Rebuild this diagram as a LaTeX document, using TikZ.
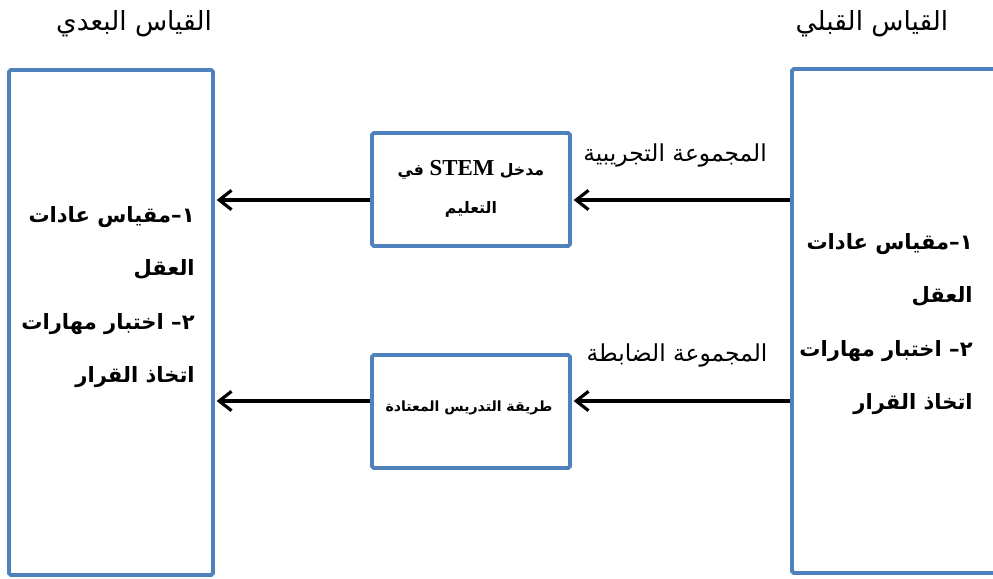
\documentclass[tikz,border=0pt]{standalone}
\usepackage{fontspec}
\newfontfamily\arabicfont[Script=Arabic]{DejaVu Sans}
\newfontfamily\latinfont{Liberation Serif}
\TeXXeTstate=1
\usetikzlibrary{positioning,arrows.meta}
\definecolor{boxblue}{RGB}{79,129,189}
\tikzset{
  flow/.style={-{Straight Barb[length=7pt,width=11pt]}, line width=1.8pt,
    draw=black, shorten >=1pt},
  frame/.style={draw=boxblue, fill=white, line width=2.2pt, rounded corners=1pt,
    inner sep=0pt},
  heading/.style={font=\arabicfont\fontsize{15}{17}\selectfont},
  grouplabel/.style={font=\arabicfont\fontsize{13.3}{16}\selectfont},
  itemlist/.style={align=right, anchor=east, inner sep=0pt,
    font=\arabicfont\bfseries\fontsize{12}{30.4}\selectfont},
  method/.style={align=center, inner sep=0pt,
    font=\arabicfont\bfseries\fontsize{9}{22}\selectfont}
}

\begin{document}
\begin{tikzpicture}[x=0.02cm, y=-0.02cm]
  \clip (0,0) rectangle (993,578);
  \fill[white] (0,0) rectangle (993,578);

  % pre and post measurement
  \node[frame, minimum width=4.08cm, minimum height=10.1cm] (post) at (111,322.5) {};
  \node[frame, minimum width=8cm, minimum height=10.08cm] (pre) at (992,321) {};
  \node[heading] (posttitle) at (134,24) {\beginR القياس البعدي\endR};
  \node[heading] (pretitle) at (872,24) {\beginR القياس القبلي\endR};

  \node[itemlist] (postlist) at (195,297)
    {\beginR ١–مقياس عادات\endR\\ \beginR العقل\endR\\
     \beginR ٢– اختبار مهارات\endR\\ \beginR اتخاذ القرار\endR};
  \node[itemlist] (prelist) at (973,324)
    {\beginR ١–مقياس عادات\endR\\ \beginR العقل\endR\\
     \beginR ٢– اختبار مهارات\endR\\ \beginR اتخاذ القرار\endR};

  % treatments
  \node[frame, minimum width=3.96cm, minimum height=2.26cm] (stem) at (471,189.5) {};
  \node[method] (stemtext) at (471,189)
    {\beginR مدخل \beginL{\latinfont\bfseries\fontsize{13}{15}\selectfont STEM}\endL{} في\endR\\
     \beginR التعليم\endR};
  \node[frame, minimum width=3.96cm, minimum height=2.26cm] (trad) at (471,411.5) {};
  \node[method, font=\arabicfont\bfseries\fontsize{8}{10}\selectfont] (tradtext)
    at (469,408) {\beginR طريقة التدريس المعتادة\endR};

  \node[grouplabel] (explabel) at (675,155) {\beginR المجموعة التجريبية\endR};
  \node[grouplabel] (ctrllabel) at (677,355) {\beginR المجموعة الضابطة\endR};

  \coordinate (uprow) at (0,200);
  \coordinate (lowrow) at (0,401);
  \draw[flow] (pre.west |- uprow) -- (stem.east |- uprow);
  \draw[flow] (stem.west |- uprow) -- (post.east |- uprow);
  \draw[flow] (pre.west |- lowrow) -- (trad.east |- lowrow);
  \draw[flow] (trad.west |- lowrow) -- (post.east |- lowrow);
\end{tikzpicture}
\end{document}
